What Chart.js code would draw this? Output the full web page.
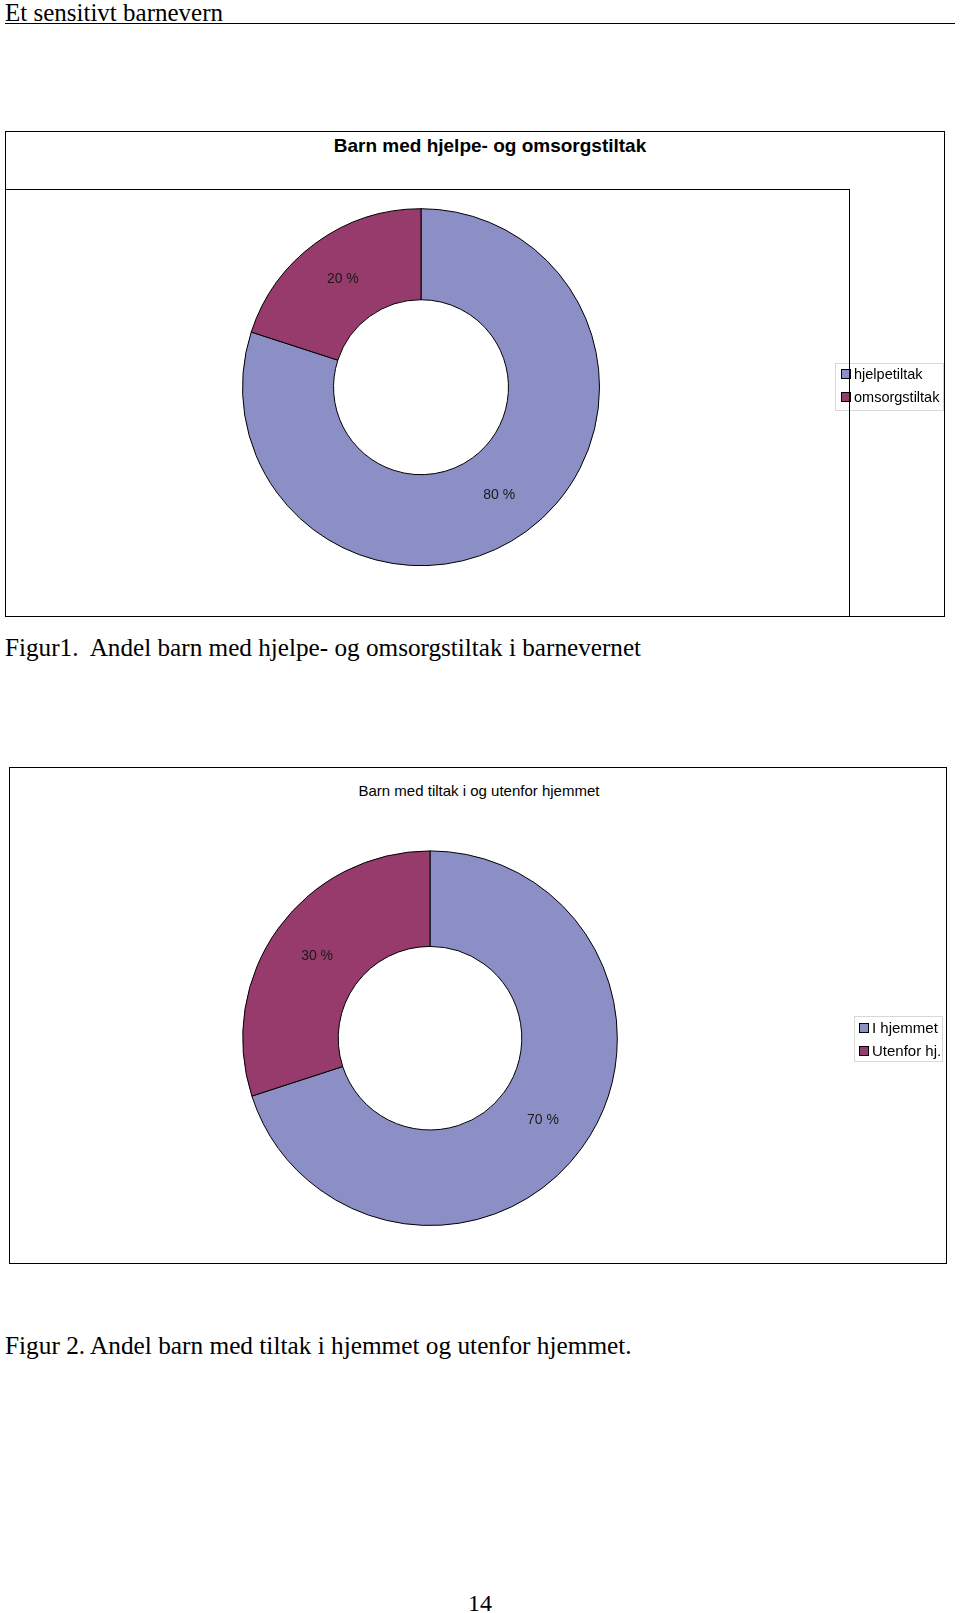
<!DOCTYPE html>
<html>
<head>
<meta charset="utf-8">
<script src="https://cdn.jsdelivr.net/npm/chart.js@4.4.1/dist/chart.umd.min.js"></script>
<style>
  body { margin: 0; background: #fff; width: 960px; height: 1613px; position: relative; overflow: hidden; }
  .abs { position: absolute; }
  .serif { font-family: "Liberation Serif", "Times New Roman", serif; color: #000; white-space: pre; }
  .sans { font-family: "Liberation Sans", Arial, sans-serif; color: #000; white-space: nowrap; text-align: center; }
  .box { border: 1.5px solid #000; box-sizing: border-box; }
  .legend { border: 1px solid #d8d8d8; font-family: "Liberation Sans", Arial, sans-serif; color: #000; box-sizing: border-box; }
  .legend .item { position: absolute; display: flex; align-items: center; white-space: nowrap; }
  .legend .sw { width: 8px; height: 8px; border: 1px solid #000; margin-right: 3px; }
</style>
</head>
<body>
<script>
// data
const chart1Title = 'Barn med hjelpe- og omsorgstiltak';
const chart1Labels = ['hjelpetiltak', 'omsorgstiltak'];
const chart1Values = [80, 20];
const chart2Title = 'Barn med tiltak i og utenfor hjemmet';
const chart2Labels = ['I hjemmet', 'Utenfor hj.'];
const chart2Values = [70, 30];
const sliceColors = ['#8c8fc6', '#963b6b'];
</script>

<div class="abs serif" style="left:5px; top:-2px; font-size:25px; line-height:30px;">Et sensitivt barnevern</div>
<div class="abs" style="left:5px; top:23px; width:950px; height:0; border-top:1.5px solid #000;"></div>

<!-- figur 1 -->
<div class="abs box" style="left:5px; top:131px; width:940px; height:486px;"></div>
<div class="abs" style="left:5px; top:189px; width:845px; height:0; border-top:1.5px solid #000;"></div>
<div class="abs" style="left:849px; top:189px; width:0; height:427px; border-left:1.5px solid #000; z-index:3;"></div>
<div id="t1" class="abs sans" style="left:290px; width:400px; top:134px; font-size:19px; line-height:24px; font-weight:bold;"></div>
<canvas id="c1" class="abs" style="left:35px; top:131px;" width="908" height="486"></canvas>
<div id="lg1" class="abs legend" style="left:835px; top:363px; width:109px; height:48px;"></div>
<div class="abs serif" style="left:5px; top:633px; font-size:25.2px; line-height:30px;">Figur1.  Andel barn med hjelpe- og omsorgstiltak i barnevernet</div>

<!-- figur 2 -->
<div class="abs box" style="left:9px; top:767px; width:938px; height:497px;"></div>
<div id="t2" class="abs sans" style="left:279px; width:400px; top:781px; font-size:15px; line-height:20px;"></div>
<canvas id="c2" class="abs" style="left:9px; top:767px;" width="937" height="496"></canvas>
<div id="lg2" class="abs legend" style="left:854px; top:1016px; width:89px; height:46px;"></div>
<div class="abs serif" style="left:5px; top:1330px; font-size:25.3px; line-height:30px;">Figur 2. Andel barn med tiltak i hjemmet og utenfor hjemmet.</div>

<div class="abs serif" style="left:468px; top:1589px; font-size:24px; line-height:28px;">14</div>

<script>
// draws the "xx %" text in the middle of every ring segment
const sliceLabels = {
    id: 'sliceLabels',
    afterDatasetsDraw(chart) {
        const ctx = chart.ctx;
        const meta = chart.getDatasetMeta(0);
        const values = chart.data.datasets[0].data;
        ctx.save();
        ctx.font = '14px "Liberation Sans", Arial, sans-serif';
        ctx.fillStyle = '#1a1a1a';
        ctx.textAlign = 'center';
        ctx.textBaseline = 'middle';
        meta.data.forEach((arc, i) => {
            const p = arc.getCenterPoint();
            ctx.fillText(values[i] + ' %', p.x, p.y);
        });
        ctx.restore();
    }
};

function makeDonut(id, labels, values, pad) {
    return new Chart(document.getElementById(id), {
        type: 'doughnut',
        data: {
            labels: labels,
            datasets: [{
                data: values,
                backgroundColor: sliceColors,
                borderColor: '#000',
                borderWidth: 1
            }]
        },
        options: {
            responsive: false,
            animation: false,
            cutout: '49%',
            layout: { padding: pad },
            plugins: {
                legend: { display: false },
                tooltip: { enabled: false }
            }
        },
        plugins: [sliceLabels]
    });
}

function makeLegend(id, labels, rows, fontSize, swLeft) {
    const el = document.getElementById(id);
    labels.forEach((lab, i) => {
        const item = document.createElement('div');
        item.className = 'item';
        item.style.left = swLeft + 'px';
        item.style.top = rows[i] + 'px';
        item.style.fontSize = fontSize + 'px';
        const sw = document.createElement('span');
        sw.className = 'sw';
        sw.style.background = sliceColors[i];
        item.appendChild(sw);
        item.appendChild(document.createTextNode(lab));
        el.appendChild(item);
    });
}

document.getElementById('t1').textContent = chart1Title;
document.getElementById('t2').textContent = chart2Title;

// figur 1: donut centre (421,387), r 179
makeDonut('c1', chart1Labels, chart1Values, { left: 207, right: 343, top: 76.4, bottom: 50 });
makeLegend('lg1', chart1Labels, [2, 25], 14.5, 5);

// figur 2: donut centre (430,1038), r 188
makeDonut('c2', chart2Labels, chart2Values, { left: 233, right: 328, top: 83.4, bottom: 37 });
makeLegend('lg2', chart2Labels, [2, 25], 15, 4);
</script>
</body>
</html>
